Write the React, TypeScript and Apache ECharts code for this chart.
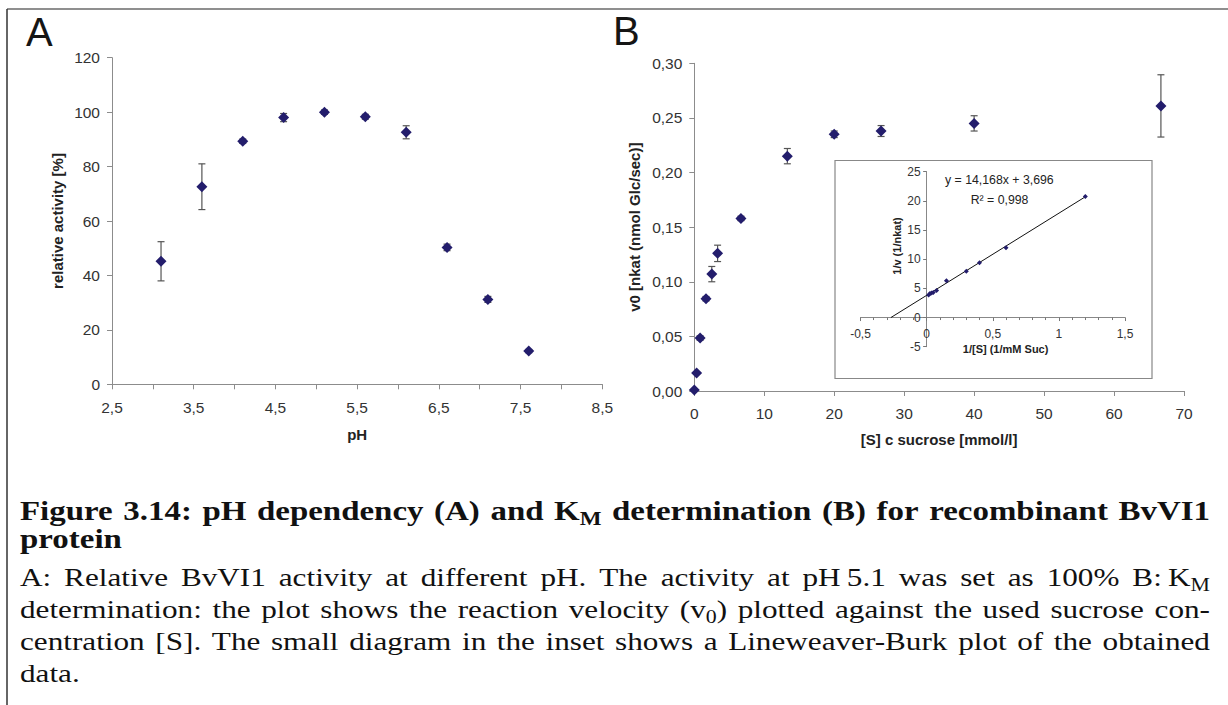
import React, { useEffect, useRef } from "react";
import * as echarts from "echarts";

// ---------- Panel A: pH dependency ----------
const phValues = [3.1, 3.6, 4.1, 4.6, 5.1, 5.6, 6.1, 6.6, 7.1, 7.6];
const relActivity = [45.2, 72.6, 89.3, 98.0, 100.0, 98.3, 92.6, 50.3, 31.2, 12.2];
const relActivityErr = [7.2, 8.4, 0.8, 1.5, 0.8, 0.9, 2.4, 1.2, 1.1, 0.6];

// ---------- Panel B: KM determination ----------
const sucroseConc = [0, 0.33, 0.83, 1.67, 2.5, 3.33, 6.67, 13.3, 20, 26.7, 40, 66.7];
const velocity = [0.001, 0.0165, 0.0485, 0.0845, 0.107, 0.126, 0.158, 0.215, 0.235, 0.238, 0.245, 0.261];
const velocityErr = [0, 0.001, 0.002, 0.002, 0.007, 0.0075, 0.002, 0.007, 0.003, 0.005, 0.007, 0.0285];

// ---------- Inset: Lineweaver-Burk ----------
const lbInvS = [0.015, 0.025, 0.0375, 0.05, 0.075, 0.15, 0.3, 0.4, 0.6, 1.2];
const lbInvV = [3.85, 4.1, 4.2, 4.3, 4.65, 6.3, 7.95, 9.4, 11.95, 20.75];
const lbTrendX = [-0.27, 1.2];
const lbTrendY = [0, 20.7];
const lbEquation = "y = 14,168x + 3,696";
const lbR2 = "R² = 0,998";

// ---------- Texts ----------
const panelLabels = ["A", "B"];
const axisTitles = {
  phX: "pH",
  phY: "relative activity [%]",
  kmX: "[S] c sucrose [mmol/l]",
  kmY: "v0 [nkat (nmol Glc/sec)]",
  lbX: "1/[S] (1/mM Suc)",
  lbY: "1/v (1/nkat)",
};
const captionTitle = [
  "Figure 3.14: pH dependency (A) and K_{M} determination (B) for recombinant BvVI1",
  "protein",
];
const captionBody = [
  "A: Relative BvVI1 activity at different pH. The activity at pH\u20095.1 was set as 100% B:\u2009K_{M}",
  "determination: the plot shows the reaction velocity (v_{0}) plotted against the used sucrose con-",
  "centration [S]. The small diagram in the inset shows a Lineweaver-Burk plot of the obtained",
  "data.",
];

const MARK = "#231D6C";
const AXIS = "#8c8c8c";
const SANS = "Liberation Sans";
const SERIF = "Liberation Serif";

const fmtComma = (v: number, d: number) => v.toFixed(d).replace(".", ",");

type Piece = { text: string; sub: boolean };
function parseWord(w: string): Piece[] {
  const out: Piece[] = [];
  const re = /_\{([^}]*)\}/g;
  let last = 0;
  let m: RegExpExecArray | null;
  while ((m = re.exec(w))) {
    if (m.index > last) out.push({ text: w.slice(last, m.index), sub: false });
    out.push({ text: m[1], sub: true });
    last = re.lastIndex;
  }
  if (last < w.length) out.push({ text: w.slice(last), sub: false });
  return out;
}

function captionGraphics(): any[] {
  const canvas = document.createElement("canvas");
  const ctx = canvas.getContext("2d")!;
  const measure = (t: string, font: string) => {
    ctx.font = font;
    return ctx.measureText(t).width;
  };
  const L = 20;
  const R = 1210;
  const blocks = [
    { lines: captionTitle, size: 27, weight: "bold", stretch: 1.22, baselines: [520, 548] },
    { lines: captionBody, size: 26, weight: "normal", stretch: 1.2, baselines: [586, 618, 650, 682] },
  ];
  const els: any[] = [];
  for (const b of blocks) {
    const font = (s: number) => `${b.weight} ${s}px "${SERIF}"`;
    const subSize = b.size * 0.7;
    b.lines.forEach((line, i) => {
      const last = i === b.lines.length - 1;
      const words = line.split(" ").map(parseWord);
      const widths = words.map((ps) =>
        ps.reduce((acc, p) => acc + measure(p.text, font(p.sub ? subSize : b.size)), 0)
      );
      const total = widths.reduce((a, c) => a + c, 0);
      const spaceW = measure(" ", font(b.size));
      const nGaps = Math.max(1, words.length - 1);
      let sx = b.stretch;
      if (!last && words.length > 1) {
        const maxS = (R - L - nGaps * spaceW * 0.7) / total;
        sx = Math.min(sx, maxS);
      }
      const gap = last || words.length < 2 ? spaceW * sx : (R - L - total * sx) / nGaps;
      const base = b.baselines[i];
      let x = L;
      words.forEach((ps, wi) => {
        let px = x;
        ps.forEach((p) => {
          const s = p.sub ? subSize : b.size;
          const bl = p.sub ? base + b.size * 0.2 : base;
          els.push({
            type: "text",
            x: px,
            y: bl - 0.3375 * s,
            scaleX: sx,
            silent: true,
            style: {
              text: p.text,
              fontSize: s,
              fontWeight: b.weight,
              fontFamily: SERIF,
              fill: "#111",
              align: "left",
              verticalAlign: "middle",
            },
          });
          px += measure(p.text, font(s)) * sx;
        });
        x += widths[wi] * sx + gap;
      });
    });
  }
  return els;
}

function errorBarRenderer(params: any, api: any) {
  const x = api.value(0);
  const lo = api.value(1);
  const hi = api.value(2);
  const top = api.coord([x, hi]);
  const bot = api.coord([x, lo]);
  const w = 3.5;
  const style = { stroke: "#555", lineWidth: 1.2 };
  return {
    type: "group",
    children: [
      { type: "line", shape: { x1: top[0], y1: top[1], x2: bot[0], y2: bot[1] }, style },
      { type: "line", shape: { x1: top[0] - w, y1: top[1], x2: top[0] + w, y2: top[1] }, style },
      { type: "line", shape: { x1: bot[0] - w, y1: bot[1], x2: bot[0] + w, y2: bot[1] }, style },
    ],
  };
}

function baseAxis(extra: any) {
  return {
    type: "value",
    axisTick: { show: true, length: 5, lineStyle: { color: AXIS } },
    splitLine: { show: false },
    nameLocation: "middle",
    nameTextStyle: { fontFamily: SANS, fontWeight: "bold", fontSize: 15, color: "#222" },
    ...extra,
    axisLine: { show: true, onZero: false, lineStyle: { color: AXIS, width: 1 }, ...(extra.axisLine || {}) },
    axisLabel: { fontFamily: SANS, color: "#333", fontSize: 15.5, ...(extra.axisLabel || {}) },
  };
}

export default function App() {
  const ref = useRef<HTMLDivElement>(null);
  useEffect(() => {
    if (!ref.current) return;
    const chart = echarts.init(ref.current, undefined, { renderer: "svg" });

    const errA = phValues.map((x, i) => [x, relActivity[i] - relActivityErr[i], relActivity[i] + relActivityErr[i]]);
    const errB = sucroseConc.map((x, i) => [x, velocity[i] - velocityErr[i], velocity[i] + velocityErr[i]]);

    const insetLeft = 860.5;
    const insetTop = 171.7;
    const insetW = 264.5;
    const insetH = 175;
    // inset axes cross at the origin (0, 0)
    const xZeroOffset = -(insetH * (0 - -5)) / (25 - -5);
    const yZeroOffset = -(insetW * (0 - -0.5)) / (1.5 - -0.5);

    const option: any = {
      animation: false,
      backgroundColor: "#fff",
      textStyle: { fontFamily: SANS },
      grid: [
        { left: 112, top: 57.7, width: 490.3, height: 326.6 },
        { left: 694.3, top: 63.3, width: 489.7, height: 327.7 },
        { left: insetLeft, top: insetTop, width: insetW, height: insetH },
      ],
      xAxis: [
        baseAxis({
          gridIndex: 0,
          min: 2.5,
          max: 8.5,
          interval: 0.5,
          name: axisTitles.phX,
          nameGap: 43,
          axisLabel: {
            margin: 15,
            formatter: (v: number) => (Math.abs((v - 2.5) % 1) < 1e-6 ? fmtComma(v, 1) : ""),
          },
        }),
        baseAxis({
          gridIndex: 1,
          min: 0,
          max: 70,
          interval: 10,
          name: axisTitles.kmX,
          nameGap: 41,
          axisLabel: { margin: 14 },
        }),
        baseAxis({
          gridIndex: 2,
          min: -0.5,
          max: 1.5,
          interval: 0.5,
          position: "bottom",
          offset: xZeroOffset,
          axisTick: { show: true, length: 3.5, lineStyle: { color: "#777" } },
          minorTick: { show: true, splitNumber: 5, length: 2.5, lineStyle: { color: "#777" } },
          axisLine: { lineStyle: { color: "#888", width: 1 } },
          axisLabel: {
            fontSize: 12,
            margin: 10,
            formatter: (v: number) => (Number.isInteger(v) ? String(v) : fmtComma(v, 1)),
          },
        }),
      ],
      yAxis: [
        baseAxis({
          gridIndex: 0,
          min: 0,
          max: 120,
          interval: 20,
          name: axisTitles.phY,
          nameGap: 47,
          axisLabel: { margin: 12 },
        }),
        baseAxis({
          gridIndex: 1,
          min: 0,
          max: 0.3,
          interval: 0.05,
          name: axisTitles.kmY,
          nameGap: 52,
          axisLabel: { margin: 12, formatter: (v: number) => fmtComma(v, 2) },
        }),
        baseAxis({
          gridIndex: 2,
          min: -5,
          max: 25,
          interval: 5,
          position: "left",
          offset: yZeroOffset,
          axisTick: { show: true, length: 3.5, lineStyle: { color: "#777" } },
          axisLine: { lineStyle: { color: "#888", width: 1 } },
          axisLabel: { fontSize: 12, margin: 6 },
        }),
      ],
      series: [
        {
          type: "custom",
          xAxisIndex: 0,
          yAxisIndex: 0,
          renderItem: errorBarRenderer,
          encode: { x: 0, y: [1, 2] },
          data: errA,
          z: 2,
          silent: true,
        },
        {
          type: "scatter",
          xAxisIndex: 0,
          yAxisIndex: 0,
          symbol: "diamond",
          symbolSize: 11,
          itemStyle: { color: MARK, opacity: 1 },
          data: phValues.map((x, i) => [x, relActivity[i]]),
          z: 3,
        },
        {
          type: "custom",
          xAxisIndex: 1,
          yAxisIndex: 1,
          renderItem: errorBarRenderer,
          encode: { x: 0, y: [1, 2] },
          data: errB,
          z: 2,
          silent: true,
        },
        {
          type: "scatter",
          xAxisIndex: 1,
          yAxisIndex: 1,
          symbol: "diamond",
          symbolSize: 11,
          itemStyle: { color: MARK, opacity: 1 },
          data: sucroseConc.map((x, i) => [x, velocity[i]]),
          z: 3,
        },
        {
          type: "line",
          xAxisIndex: 2,
          yAxisIndex: 2,
          symbol: "none",
          lineStyle: { color: "#111", width: 1 },
          data: lbTrendX.map((x, i) => [x, lbTrendY[i]]),
          z: 3,
        },
        {
          type: "scatter",
          xAxisIndex: 2,
          yAxisIndex: 2,
          symbol: "diamond",
          symbolSize: 5,
          itemStyle: { color: MARK, opacity: 1 },
          data: lbInvS.map((x, i) => [x, lbInvV[i]]),
          z: 4,
        },
      ],
      graphic: [
        { type: "line", shape: { x1: 7, y1: 9, x2: 1228, y2: 9 }, style: { stroke: "#6a6a6a", lineWidth: 1.5 } },
        { type: "line", shape: { x1: 7, y1: 9, x2: 7, y2: 705 }, style: { stroke: "#333", lineWidth: 1.5 } },
        {
          type: "text",
          x: 26,
          y: 32,
          style: { text: panelLabels[0], fontFamily: SANS, fontSize: 40, fill: "#151515", align: "left", verticalAlign: "middle" },
        },
        {
          type: "text",
          x: 613,
          y: 31,
          style: { text: panelLabels[1], fontFamily: SANS, fontSize: 40, fill: "#151515", align: "left", verticalAlign: "middle" },
        },
        {
          type: "rect",
          shape: { x: 835, y: 160.5, width: 317, height: 218 },
          style: { fill: "none", stroke: "#888", lineWidth: 1.2 },
          z: 1,
        },
        {
          type: "text",
          x: 896.7,
          y: 246,
          rotation: Math.PI / 2,
          style: { text: axisTitles.lbY, fontFamily: SANS, fontWeight: "bold", fontSize: 11, fill: "#222", align: "center", verticalAlign: "middle" },
        },
        {
          type: "text",
          x: 1005.6,
          y: 349.3,
          style: { text: axisTitles.lbX, fontFamily: SANS, fontWeight: "bold", fontSize: 11, fill: "#222", align: "center", verticalAlign: "middle" },
        },
        {
          type: "text",
          x: 945,
          y: 180,
          style: { text: lbEquation, fontFamily: SANS, fontSize: 12.3, fill: "#222", align: "left", verticalAlign: "middle" },
        },
        {
          type: "text",
          x: 970.7,
          y: 199.5,
          style: { text: lbR2, fontFamily: SANS, fontSize: 12.3, fill: "#222", align: "left", verticalAlign: "middle" },
        },
        ...captionGraphics(),
      ],
    };
    chart.setOption(option);
    return () => chart.dispose();
  }, []);
  return (
    <div
      ref={ref}
      style={{ position: "fixed", left: 0, top: 0, width: 1228, height: 705, background: "#fff" }}
    />
  );
}
